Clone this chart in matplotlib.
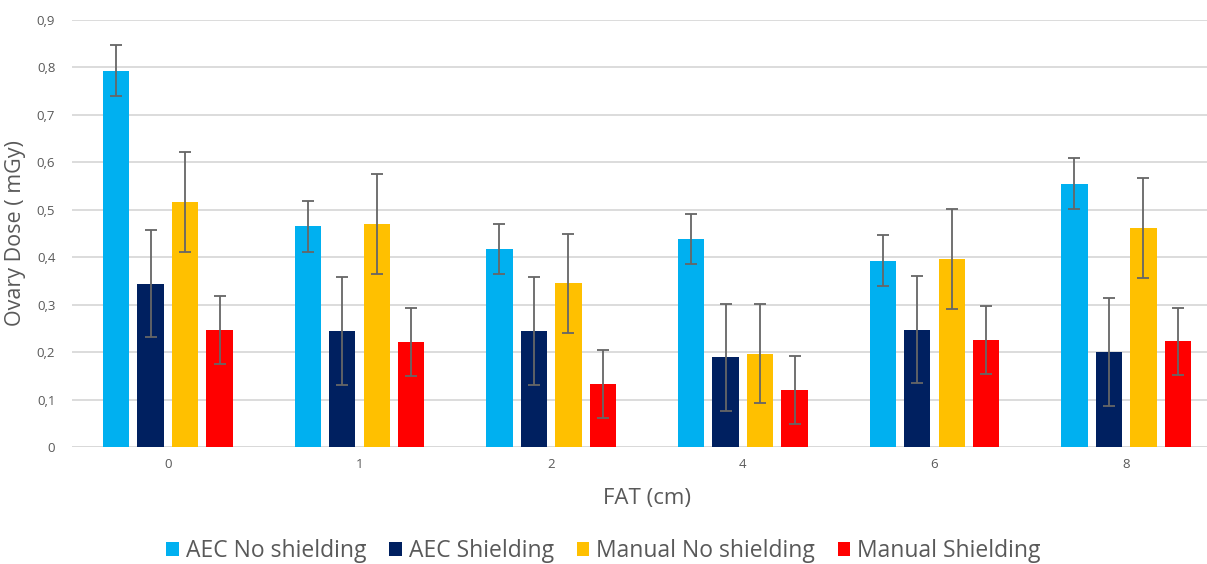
import matplotlib.pyplot as plt
import numpy as np

plt.rcParams['font.family'] = ['Open Sans', 'DejaVu Sans']

fat_cm = ['0', '1', '2', '4', '6', '8']
series = ['AEC No shielding', 'AEC Shielding', 'Manual No shielding', 'Manual Shielding']
colors = ['#00B0F0', '#002060', '#FFC000', '#FF0000']

aec_no = [0.793, 0.465, 0.417, 0.438, 0.393, 0.555]
aec_sh = [0.344, 0.245, 0.245, 0.189, 0.247, 0.200]
man_no = [0.517, 0.470, 0.345, 0.197, 0.396, 0.462]
man_sh = [0.247, 0.221, 0.133, 0.120, 0.226, 0.223]

aec_no_err = [0.054, 0.053, 0.053, 0.053, 0.053, 0.054]
aec_sh_err = [0.113, 0.114, 0.114, 0.113, 0.113, 0.114]
man_no_err = [0.105, 0.106, 0.105, 0.105, 0.105, 0.105]
man_sh_err = [0.072, 0.071, 0.071, 0.072, 0.072, 0.071]

values = [aec_no, aec_sh, man_no, man_sh]
errors = [aec_no_err, aec_sh_err, man_no_err, man_sh_err]

fig = plt.figure(figsize=(12.07, 5.64), dpi=100)
# axes run a little past the right edge, as in the reference
ax = fig.add_axes([72 / 1207, (564 - 447) / 564, 1150 / 1207, 427 / 564])

x = np.arange(len(fat_cm))
pitch = 0.18
width = 0.137
for i, (vals, errs) in enumerate(zip(values, errors)):
    pos = x + (i - 1.5) * pitch
    ax.bar(pos, vals, width, color=colors[i], label=series[i], zorder=2)
    ax.errorbar(pos, vals, yerr=errs, fmt='none', ecolor='#666666',
                elinewidth=1.3, capsize=4, capthick=1.3, zorder=3)

ax.set_xlim(-0.5, 5.5)
ax.set_ylim(0, 0.9)
yt = np.arange(0, 0.91, 0.1)
ax.set_yticks(yt)
ax.set_yticklabels(['0'] + [f'{v:.1f}'.replace('.', ',') for v in yt[1:]])
ax.set_xticks(x)
ax.set_xticklabels(fat_cm)
ax.tick_params(length=0, labelsize=9.5, labelcolor='#595959', pad=8)
ax.tick_params(axis='y', pad=12)
ax.grid(axis='y', color='#D9D9D9', linewidth=1.3, zorder=0)
for s in ax.spines.values():
    s.set_visible(False)
ax.axhline(0, color='#D9D9D9', linewidth=1.3, zorder=1)

ax.set_ylabel('Ovary Dose ( mGy)', fontsize=15.5, color='#595959', labelpad=8)
ax.set_xlabel('FAT (cm)', fontsize=16, color='#595959', labelpad=12)

ax.legend(loc='center', bbox_to_anchor=(0.5, (564 - 551) / 564), bbox_transform=fig.transFigure,
          ncol=4, frameon=False, fontsize=16.5, labelcolor='#595959',
          handlelength=0.55, handleheight=0.55, handletextpad=0.3, columnspacing=1.0)

fig.savefig('out.png', dpi=100)
